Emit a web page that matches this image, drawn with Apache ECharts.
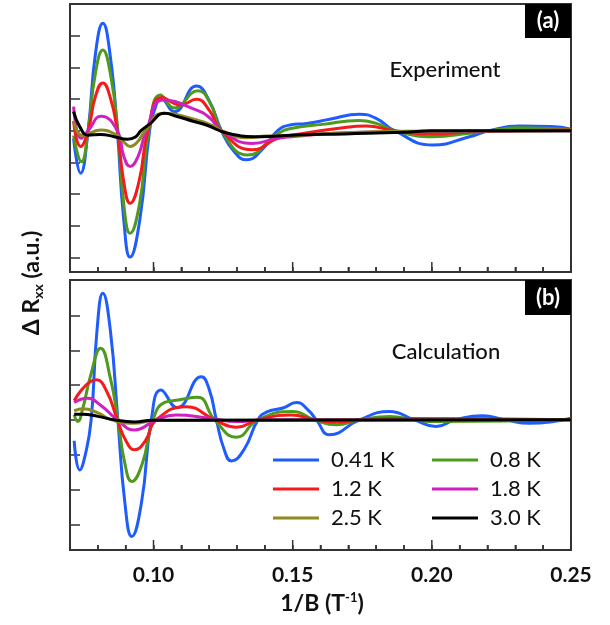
<!DOCTYPE html>
<html><head><meta charset="utf-8">
<script src="https://cdn.jsdelivr.net/npm/echarts@6/dist/echarts.min.js"></script>
<style>html,body{margin:0;padding:0;background:#fff}#c{width:610px;height:625px}</style>
</head><body><div id="c"></div>
<script>
// ---- data ----
const seriesNames = ['0.41 K', '0.8 K', '1.2 K', '1.8 K', '2.5 K', '3.0 K'];
const seriesColors = ['#1e5cff', '#4e9a1c', '#f51b1b', '#d020c0', '#8d8b1f', '#000000'];
const xTickLabels = [0.10, 0.15, 0.20, 0.25];
const xMinorTicks = [0.08, 0.09, 0.11, 0.12, 0.13, 0.14, 0.16, 0.17, 0.18, 0.19, 0.21, 0.22, 0.23, 0.24];
const yTicksA = [-4, -3, -2, -1, 0, 1, 2, 3];
const yTicksB = [-3, -2, -1, 0, 1, 2, 3];
const yRangeA = [-4.46, 4.0];
const yRangeB = [-3.74, 4.02];

// Panel (a) Experiment: [1/B, dRxx]
const expBlue = [[0.0713,-0.25],[0.0738,-1.34],[0.0765,0],[0.0791,2.4],[0.0818,3.39],[0.0844,2.4],[0.087,0],[0.0893,-2.8],[0.0916,-3.99],[0.0951,-2.8],[0.0986,0],[0.1006,0.72],[0.1027,1.02],[0.1075,0.6],[0.1154,1.41],[0.12,0.95],[0.1244,0],[0.1289,-0.65],[0.1334,-0.92],[0.139,-0.6],[0.1446,0],[0.149,0.18],[0.155,0.23],[0.1633,0.36],[0.174,0.52],[0.18,0.39],[0.1866,0],[0.2003,-0.45],[0.2135,-0.19],[0.2206,0],[0.2314,0.15],[0.243,0.13],[0.25,0.05]];
const expGreen = [[0.0713,-0.15],[0.0741,-0.98],[0.0765,0],[0.0791,1.8],[0.0818,2.55],[0.0845,1.8],[0.0872,0],[0.0893,-2.3],[0.0916,-3.24],[0.095,-2.3],[0.0983,0],[0.1025,1.13],[0.1075,0.72],[0.116,1.26],[0.1205,0.85],[0.1244,0],[0.1338,-0.77],[0.1446,-0.1],[0.1499,0.08],[0.1608,0.2],[0.174,0.32],[0.18,0.23],[0.1866,0],[0.2003,-0.19],[0.2135,-0.08],[0.2206,0],[0.2314,0.09],[0.25,0.04]];
const expRed = [[0.0713,0.3],[0.0738,-0.5],[0.0765,0],[0.0791,1.07],[0.0818,1.51],[0.0844,1.07],[0.087,0],[0.0893,-1.6],[0.0916,-2.29],[0.0948,-1.6],[0.098,0],[0.103,1.05],[0.1098,0.81],[0.1154,0.99],[0.12,0.65],[0.1244,0],[0.1355,-0.6],[0.1446,-0.24],[0.1525,-0.1],[0.1667,0.08],[0.1763,0.15],[0.1866,0],[0.2003,-0.11],[0.215,-0.03],[0.25,0.02]];
const expMagenta = [[0.0713,0.76],[0.074,-0.24],[0.0765,0],[0.0812,0.46],[0.087,0],[0.0893,-0.8],[0.0916,-1.13],[0.0945,-0.8],[0.0974,0],[0.1035,0.97],[0.1155,0.65],[0.1204,0.39],[0.1244,0],[0.1355,-0.4],[0.1446,-0.24],[0.1525,-0.17],[0.165,-0.08],[0.19,-0.03],[0.25,0]];
const expOlive = [[0.0713,0.3],[0.0745,-0.15],[0.081,0.02],[0.086,-0.1],[0.0893,-0.35],[0.0916,-0.5],[0.0943,-0.35],[0.097,0],[0.1036,0.55],[0.1155,0.34],[0.1215,0.15],[0.1244,0],[0.1334,-0.22],[0.1405,-0.17],[0.152,-0.15],[0.165,-0.08],[0.19,-0.02],[0.25,0]];
const expBlack = [[0.0713,0.6],[0.0735,0.13],[0.0765,-0.14],[0.081,-0.12],[0.0856,-0.18],[0.0907,-0.27],[0.0935,-0.2],[0.0955,0],[0.0985,0.2],[0.104,0.55],[0.1085,0.45],[0.1142,0.3],[0.119,0.18],[0.1266,-0.08],[0.1385,-0.19],[0.15,-0.14],[0.1688,-0.1],[0.19,-0.05],[0.2,0],[0.25,0]];

// Panel (b) Calculation
const calBlue = [[0.0715,-0.6],[0.0735,-1.44],[0.0755,-1.0],[0.0776,0],[0.0797,2.57],[0.0818,3.64],[0.0845,2.57],[0.0872,0],[0.0897,-2.37],[0.0922,-3.35],[0.0957,-2.37],[0.0992,0],[0.1027,0.86],[0.1085,0.35],[0.1172,1.24],[0.12,0.88],[0.1226,0],[0.1253,-0.83],[0.128,-1.18],[0.1327,-0.83],[0.1375,0],[0.141,0.24],[0.1465,0.34],[0.1513,0.5],[0.1555,0.29],[0.1585,0],[0.1633,-0.43],[0.174,0],[0.1848,0.24],[0.1937,0],[0.2015,-0.19],[0.2085,0],[0.2182,0.12],[0.2265,0],[0.235,-0.1],[0.25,0.05]];
const calGreen = [[0.0715,0.15],[0.0728,-0.05],[0.0745,0.3],[0.0775,1.3],[0.081,2.06],[0.0845,1.2],[0.0872,0],[0.0897,-1.25],[0.0922,-1.77],[0.096,-1.25],[0.0998,0],[0.104,0.5],[0.109,0.57],[0.1158,0.65],[0.122,0],[0.1298,-0.5],[0.1375,0],[0.15,0.24],[0.1579,0],[0.1657,-0.14],[0.174,0],[0.185,0.1],[0.1937,0],[0.2015,-0.05],[0.25,0]];
const calRed = [[0.0715,0.55],[0.0795,1.15],[0.0833,0.8],[0.087,0],[0.0901,-0.6],[0.0932,-0.86],[0.0971,-0.6],[0.101,0],[0.1118,0.38],[0.122,0],[0.1298,-0.21],[0.1375,0],[0.1495,0.14],[0.158,0],[0.1657,-0.06],[0.175,0],[0.185,0.04],[0.25,0]];
const calMagenta = [[0.0715,0.5],[0.0763,0.62],[0.081,0.42],[0.087,0],[0.0932,-0.29],[0.101,0],[0.108,0.14],[0.12,0.05],[0.13,-0.05],[0.14,0],[0.25,0]];
const calOlive = [[0.0715,0.26],[0.0747,0.32],[0.08,0.2],[0.085,0],[0.093,-0.1],[0.1,-0.02],[0.25,0]];
const calBlack = [[0.0715,0.16],[0.0745,0.16],[0.08,0.1],[0.086,0],[0.093,-0.06],[0.1,-0.01],[0.25,0]];

const expData = [expBlue, expGreen, expRed, expMagenta, expOlive, expBlack];
const calData = [calBlue, calGreen, calRed, calMagenta, calOlive, calBlack];

// ---- chart ----
const FONT = 'Lato';
const AX = '#333';
const isMajor = v => xTickLabels.some(t => Math.abs(t - v) < 1e-6);
function xAx(grid, labels) {
  return {
    type: 'value', gridIndex: grid, min: 0.07, max: 0.25, interval: 0.01,
    axisLine: { show: false, onZero: false }, splitLine: { show: false },
    axisTick: { show: true, inside: true, length: 5, lineStyle: { color: AX, width: 1.5 } },
    axisLabel: { show: labels, margin: 15, fontFamily: FONT, fontWeight: 'bold', fontSize: 21, color: '#111',
      formatter: v => isMajor(v) ? Number(v).toFixed(2) : '' }
  };
}
function yAx(grid, range, ticks) {
  return {
    type: 'value', gridIndex: grid, min: range[0], max: range[1],
    axisLine: { show: false, onZero: false }, splitLine: { show: false }, axisLabel: { show: false },
    axisTick: { show: true, inside: true, length: 10, customValues: ticks, lineStyle: { color: AX, width: 1.5 } }
  };
}
const series = [];
[expData, calData].forEach((set, p) => {
  set.forEach((d, i) => {
    series.push({
      type: 'line', name: seriesNames[i], xAxisIndex: p, yAxisIndex: p,
      data: d, smooth: 0.5, showSymbol: false, symbol: 'none',
      lineStyle: { color: seriesColors[i], width: 3 }, itemStyle: { color: seriesColors[i] },
      z: 2 + i, animation: false
    });
  });
});
function legend(left, names) {
  return {
    orient: 'vertical', left: left, top: 444, itemWidth: 46, itemHeight: 3, itemGap: 7,
    icon: 'rect', selectedMode: false, data: names,
    textStyle: { fontFamily: FONT, fontSize: 22, color: '#111', padding: [0, 0, 0, 7] }
  };
}
const staticGraphics = [
  { type: 'rect', shape: { x: 525, y: 4, width: 46, height: 34 }, style: { fill: '#000' }, z: 50 },
  { type: 'text', x: 548, y: 21, style: { text: '(a)', fill: '#fff', font: 'bold 22px Lato', textAlign: 'center', textVerticalAlign: 'middle' }, z: 51 },
  { type: 'rect', shape: { x: 525, y: 280, width: 46, height: 35 }, style: { fill: '#000' }, z: 50 },
  { type: 'text', x: 548, y: 297.5, style: { text: '(b)', fill: '#fff', font: 'bold 22px Lato', textAlign: 'center', textVerticalAlign: 'middle' }, z: 51 },
  { type: 'text', x: 445, y: 70, style: { text: 'Experiment', fill: '#111', font: '500 22px Lato', textAlign: 'center', textVerticalAlign: 'middle' }, z: 51 },
  { type: 'text', x: 446, y: 352, style: { text: 'Calculation', fill: '#111', font: '500 22px Lato', textAlign: 'center', textVerticalAlign: 'middle' }, z: 51 },
  { type: 'text', x: 322, y: 604, z: 51, style: {
      text: '{m|1/B (T}{s|-1}{m|)}', textAlign: 'center', textVerticalAlign: 'middle',
      rich: { m: { fontFamily: FONT, fontWeight: 'bold', fontSize: 23, fill: '#111' },
              s: { fontFamily: FONT, fontWeight: 'bold', fontSize: 13, fill: '#111', padding: [0, 0, 13, 0] } } } },
  { type: 'text', x: 32, y: 283, rotation: Math.PI / 2, z: 51, style: {
      text: '{m|Δ R}{s|xx}{m| (a.u.)}', textAlign: 'center', textVerticalAlign: 'middle',
      rich: { m: { fontFamily: FONT, fontWeight: 'bold', fontSize: 23, fill: '#111' },
              s: { fontFamily: FONT, fontWeight: 'bold', fontSize: 14, fill: '#111', padding: [13, 0, 0, 0] } } } }
];
const option = {
  backgroundColor: '#fff',
  animation: false,
  grid: [
    { left: 70, top: 4, width: 501, height: 268, show: true, borderColor: AX, borderWidth: 2 },
    { left: 70, top: 280, width: 501, height: 270, show: true, borderColor: AX, borderWidth: 2 }
  ],
  xAxis: [xAx(0, false), xAx(1, true)],
  yAxis: [yAx(0, yRangeA, yTicksA), yAx(1, yRangeB, yTicksB)],
  legend: [legend(268, ['0.41 K', '1.2 K', '2.5 K']), legend(427, ['0.8 K', '1.8 K', '3.0 K'])],
  series: series
};
const chart = echarts.init(document.getElementById('c'), null, { renderer: 'canvas' });
chart.setOption(option);

// bottom x ticks: positions come from the library's own axis scale
const tickGraphics = [];
[yRangeA, yRangeB].forEach((range, p) => {
  const add = (v, len) => {
    const pt = chart.convertToPixel({ xAxisIndex: p, yAxisIndex: p }, [v, range[0]]);
    if (!pt || isNaN(pt[0])) return;
    tickGraphics.push({ type: 'line', z: 100, silent: true,
      shape: { x1: pt[0], y1: pt[1], x2: pt[0], y2: pt[1] - len },
      style: { stroke: AX, lineWidth: 1.5 } });
  };
  xMinorTicks.forEach(v => add(v, 5));
  xTickLabels.forEach(v => add(v, 10));
});
chart.setOption({ graphic: staticGraphics.concat(tickGraphics) });
</script>
</body></html>
